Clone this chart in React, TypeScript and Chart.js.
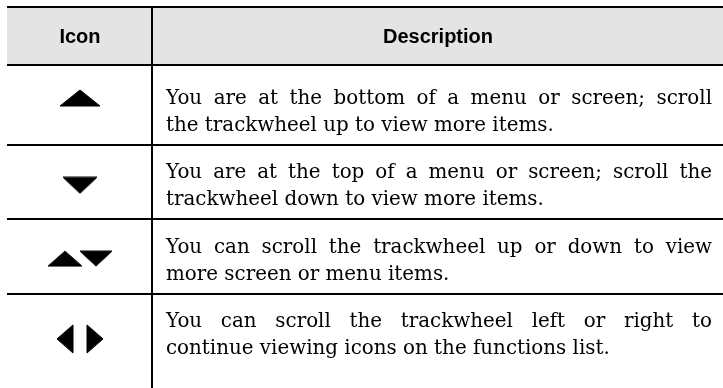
import React, { useEffect, useRef } from 'react';
import { Chart, registerables } from 'chart.js';

Chart.register(...registerables);

// ---------- data ----------
const HEADERS = ['Icon', 'Description'];
const ICONS = ['up', 'down', 'upDown', 'leftRight'];
const DESC_LINE1 = [
  'You are at the bottom of a menu or screen; scroll',
  'You are at the top of a menu or screen; scroll the',
  'You can scroll the trackwheel up or down to view',
  'You can scroll the trackwheel left or right to',
];
const DESC_LINE2 = [
  'the trackwheel up to view more items.',
  'trackwheel down to view more items.',
  'more screen or menu items.',
  'continue viewing icons on the functions list.',
];

// ---------- layout / style ----------
const W = 723;
const H = 388;
const L = {
  left: 7,
  right: 723,
  top: 6,
  headerBottom: 64,
  divider: 151,
  line: 2,
  textLeft: 166,
  textRight: 712,
  baseline1: -4,
  baseline2: 23,
  firstRowCenter: 108,
  rowPitch: 74.3,
  iconX: 80,
  headerBaseline: 43,
};
// small vertical nudges (px) of each icon inside its cell
const ICON_NUDGE = [-10, 3, 2, 8];
const HEADER_FILL = '#e4e4e4';
const INK = '#000000';
const SERIF = '"DejaVu Serif", serif';
const SANS = '"Liberation Sans", Arial, sans-serif';

function makeIcon(kind: string): HTMLCanvasElement {
  const c = document.createElement('canvas');
  const polys: number[][][] = [];
  if (kind === 'up') {
    c.width = 42; c.height = 18;
    polys.push([[1, 17], [41, 17], [21, 1]]);
  } else if (kind === 'down') {
    c.width = 36; c.height = 18;
    polys.push([[1, 1], [35, 1], [18, 17]]);
  } else if (kind === 'upDown') {
    c.width = 66; c.height = 17;
    polys.push([[1, 16], [35, 16], [18, 1]]);
    polys.push([[33, 1], [65, 1], [49, 16]]);
  } else {
    c.width = 48; c.height = 30;
    polys.push([[1, 15], [17, 1], [17, 29]]);
    polys.push([[31, 1], [31, 29], [47, 15]]);
  }
  const ctx = c.getContext('2d')!;
  ctx.fillStyle = INK;
  ctx.strokeStyle = INK;
  ctx.lineJoin = 'round';
  ctx.lineWidth = 1;
  for (const p of polys) {
    ctx.beginPath();
    ctx.moveTo(p[0][0], p[0][1]);
    for (let i = 1; i < p.length; i++) ctx.lineTo(p[i][0], p[i][1]);
    ctx.closePath();
    ctx.fill();
    ctx.stroke();
  }
  return c;
}

function drawJustified(ctx: CanvasRenderingContext2D, text: string, x0: number, x1: number, y: number) {
  const words = text.split(' ');
  const widths = words.map((w) => ctx.measureText(w).width);
  const total = widths.reduce((a, b) => a + b, 0);
  const gap = words.length > 1 ? (x1 - x0 - total) / (words.length - 1) : 0;
  let x = x0;
  words.forEach((w, i) => {
    ctx.fillText(w, x, y);
    x += widths[i] + gap;
  });
}

const tablePlugin = {
  id: 'tablePlugin',
  beforeDatasetsDraw(chart: any) {
    const ctx: CanvasRenderingContext2D = chart.ctx;
    ctx.save();
    ctx.fillStyle = HEADER_FILL;
    ctx.fillRect(L.left, L.top, L.right - L.left, L.headerBottom - L.top);
    ctx.restore();
  },
  afterDatasetsDraw(chart: any) {
    const ctx: CanvasRenderingContext2D = chart.ctx;
    const ys = chart.scales.y;
    ctx.save();
    ctx.fillStyle = INK;
    ctx.fillRect(L.left, L.top, L.right - L.left, L.line);
    ctx.fillRect(L.left, L.headerBottom, L.right - L.left, L.line);
    for (let i = 0; i < ICONS.length - 1; i++) {
      const yb = Math.round(ys.getPixelForValue(i + 0.5)) - 1;
      ctx.fillRect(L.left, yb, L.right - L.left, L.line);
    }
    ctx.fillRect(L.divider, L.top, L.line, H - L.top);

    ctx.font = `bold 20px ${SANS}`;
    ctx.textAlign = 'center';
    ctx.textBaseline = 'alphabetic';
    ctx.fillText(HEADERS[0], (L.left + L.divider) / 2 + 1, L.headerBaseline);
    ctx.fillText(HEADERS[1], (L.divider + L.line + L.right) / 2, L.headerBaseline);

    ctx.textAlign = 'left';
    ctx.font = `20px ${SERIF}`;
    const ref = ctx.measureText(DESC_LINE2[0]).width;
    const size = (20 * 388) / ref;
    ctx.font = `${size.toFixed(2)}px ${SERIF}`;
    for (let i = 0; i < ICONS.length; i++) {
      const c = ys.getPixelForValue(i);
      drawJustified(ctx, DESC_LINE1[i], L.textLeft, L.textRight, c + L.baseline1);
      ctx.fillText(DESC_LINE2[i], L.textLeft, c + L.baseline2);
    }
    ctx.restore();
  },
};

export default function App() {
  const ref = useRef<HTMLCanvasElement | null>(null);
  useEffect(() => {
    document.body.style.margin = '0';
    const canvas = ref.current!;
    const styles = ICONS.map(makeIcon);
    const chart = new Chart(canvas, {
      type: 'scatter',
      data: {
        datasets: [
          {
            data: ICONS.map((_, i) => ({ x: L.iconX, y: i + ICON_NUDGE[i] / L.rowPitch })),
            pointStyle: styles as any,
            pointRadius: 10,
            backgroundColor: INK,
            borderColor: INK,
          },
        ],
      },
      options: {
        animation: false,
        responsive: false,
        events: [],
        layout: { padding: 0, autoPadding: false },
        clip: false as any,
        plugins: { legend: { display: false }, tooltip: { enabled: false } },
        scales: {
          x: { type: 'linear', display: false, min: 0, max: W },
          y: {
            type: 'linear',
            display: false,
            reverse: true,
            min: -L.firstRowCenter / L.rowPitch,
            max: (H - L.firstRowCenter) / L.rowPitch,
          },
        },
      },
      plugins: [tablePlugin],
    });
    return () => chart.destroy();
  }, []);
  return (
    <div style={{ width: W, height: H, background: '#fff' }}>
      <canvas ref={ref} width={W} height={H} style={{ display: 'block' }} />
    </div>
  );
}
